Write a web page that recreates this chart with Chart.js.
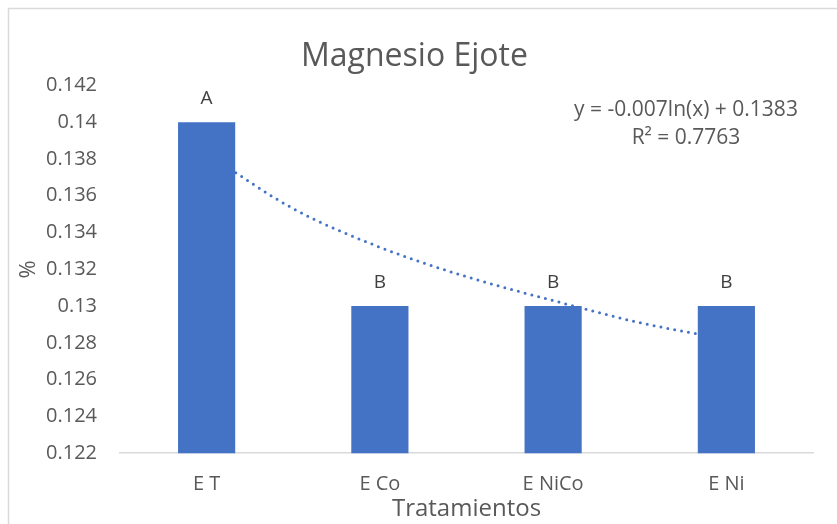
<!DOCTYPE html>
<html>
<head>
<meta charset="utf-8">
<script src="https://cdn.jsdelivr.net/npm/chart.js@4.4.1/dist/chart.umd.min.js"></script>
<style>
  html, body { margin: 0; padding: 0; background: #fff; }
  #wrap { width: 837px; height: 524px; position: relative; }
</style>
</head>
<body>
<div id="wrap"><canvas id="magChart" width="837" height="524"></canvas></div>
<script>
// Data for the chart
const categories = ["E T", "E Co", "E NiCo", "E Ni"];
const magnesio = [0.14, 0.13, 0.13, 0.13];
const letters = ["A", "B", "B", "B"];

// logarithmic trendline at category positions 1..4
const trendX = [1, 1.5, 2, 2.5, 3, 3.5, 4];
const trendY = [0.1383, 0.1353, 0.1332, 0.1316, 0.1303, 0.1291, 0.1282];
const trendLabel = ["y = -0.007ln(x) + 0.1383", "R\u00B2 = 0.7763"];

const textColor = "#595959";
const fontName = "'Open Sans', Lato, sans-serif";

// outer chart border + letters + equation
const extras = {
  id: "extras",
  beforeDraw(chart) {
    const c = chart.ctx;
    c.save();
    c.strokeStyle = "#d9d9d9";
    c.lineWidth = 1.5;
    c.strokeRect(8.5, 8.5, chart.width + 10, chart.height + 10);
    c.restore();
  },
  afterDatasetsDraw(chart) {
    const c = chart.ctx;
    const meta = chart.getDatasetMeta(0);
    c.save();
    c.fillStyle = "#404040";
    c.font = "19px " + fontName;
    c.textAlign = "center";
    c.textBaseline = "alphabetic";
    meta.data.forEach((bar, i) => {
      c.fillText(letters[i], bar.x, bar.y - 18);
    });
    c.fillStyle = textColor;
    c.font = "21px " + fontName;
    c.fillText(trendLabel[0], 686, 116);
    c.fillText(trendLabel[1], 686, 144);
    c.restore();
  }
};

const ctx = document.getElementById("magChart").getContext("2d");
new Chart(ctx, {
  type: "bar",
  data: {
    labels: categories,
    datasets: [
      {
        type: "bar",
        label: "Magnesio",
        data: magnesio,
        backgroundColor: "#4472C4",
        categoryPercentage: 1,
        barPercentage: 0.33,
        grouped: false,
        order: 1,
      },
      {
        type: "line",
        label: "Tendencia",
        data: trendX.map((x, i) => ({ x: x, y: trendY[i] })),
        xAxisID: "xTrend",
        borderColor: "#4472C4",
        borderWidth: 3,
        borderDash: [0, 7],
        borderCapStyle: "round",
        pointRadius: 0,
        cubicInterpolationMode: "monotone",
        fill: false,
        order: 2,
      },
    ],
  },
  options: {
    responsive: false,
    animation: false,
    layout: { padding: { left: 16, right: 24, top: 8, bottom: 0 } },
    plugins: {
      legend: { display: false },
      tooltip: { enabled: false },
      title: {
        display: true,
        text: "Magnesio Ejote",
        color: textColor,
        font: { family: fontName, size: 32, weight: "normal" },
        padding: { top: 30, bottom: 9 },
      },
    },
    scales: {
      x: {
        offset: true,
        grid: { display: false, drawTicks: false },
        border: { display: true, color: "#d9d9d9", width: 1.5 },
        ticks: {
          color: textColor,
          padding: 19,
          font: { family: fontName, size: 20 },
        },
        title: {
          display: true,
          text: "Tratamientos",
          color: textColor,
          padding: { top: -20, bottom: 0 },
          font: { family: fontName, size: 24 },
        },
      },
      xTrend: {
        type: "linear",
        display: false,
        offset: false,
        grid: { offset: false },
        min: 0.5,
        max: 4.5,
      },
      y: {
        min: 0.122,
        max: 0.142,
        grid: { display: false, drawTicks: false },
        border: { display: false },
        afterFit: (scale) => { scale.width = 104; },
        ticks: {
          stepSize: 0.002,
          color: textColor,
          padding: 23,
          font: { family: fontName, size: 20 },
          callback: (v) => parseFloat(v.toFixed(3)).toString(),
        },
        title: {
          display: true,
          text: "%",
          color: textColor,
          padding: { top: 0, bottom: 0 },
          font: { family: fontName, size: 22 },
        },
      },
    },
  },
  plugins: [extras],
});
</script>
</body>
</html>
